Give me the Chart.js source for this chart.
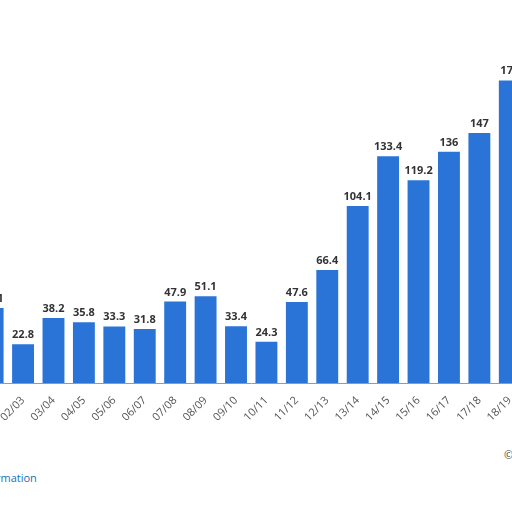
<!DOCTYPE html>
<html><head>
<script src="https://cdn.jsdelivr.net/npm/chart.js@4/dist/chart.umd.min.js"></script>
<style>
body{margin:0;width:512px;height:512px;overflow:hidden;background:#fff;position:relative;font-family:"Open Sans",sans-serif}
#wrap{position:absolute;left:-31px;top:60px;width:556px;height:380px}
#foot{position:absolute;left:-4px;top:470px;font-size:11px;color:#1a6fb5}
#copy{position:absolute;left:504px;top:447px;font-size:11px;color:#444}
</style></head><body>
<div id="wrap"><canvas id="c"></canvas></div>
<div id="foot">rmation</div>
<div id="copy">©</div>
<script>
const seasons = ['01/02','02/03','03/04','04/05','05/06','06/07','07/08','08/09','09/10','10/11','11/12','12/13','13/14','14/15','15/16','16/17','17/18','18/19'];
const values = [44.1,22.8,38.2,35.8,33.3,31.8,47.9,51.1,33.4,24.3,47.6,66.4,104.1,133.4,119.2,136,147,178];

const labelPlugin = {
  id: 'labels',
  afterDatasetsDraw(chart) {
    const ctx = chart.ctx;
    ctx.save();
    ctx.font = 'bold 11px "Open Sans", sans-serif';
    ctx.fillStyle = '#333';
    ctx.textAlign = 'center';
    chart.getDatasetMeta(0).data.forEach((bar, i) => {
      ctx.fillText(values[i], bar.x, bar.y - 6);
    });
    ctx.restore();
  }
};

new Chart(document.getElementById('c'), {
  type: 'bar',
  data: {
    labels: seasons,
    datasets: [{ data: values, backgroundColor: '#2a74d8', barPercentage: 0.72, categoryPercentage: 1 }]
  },
  options: {
    responsive: true, maintainAspectRatio: false, animation: false,
    layout: { padding: 0 },
    plugins: { legend: { display: false }, tooltip: { enabled: false } },
    scales: {
      y: { display: false, min: 0, max: 190 },
      x: {
        grid: { display: false },
        border: { color: '#999' },
        afterFit(s) { s.height = 57; },
        ticks: { color: '#555', font: { size: 11, family: 'Open Sans' }, maxRotation: 45, minRotation: 45 }
      }
    }
  },
  plugins: [labelPlugin]
});
</script>
</body></html>
